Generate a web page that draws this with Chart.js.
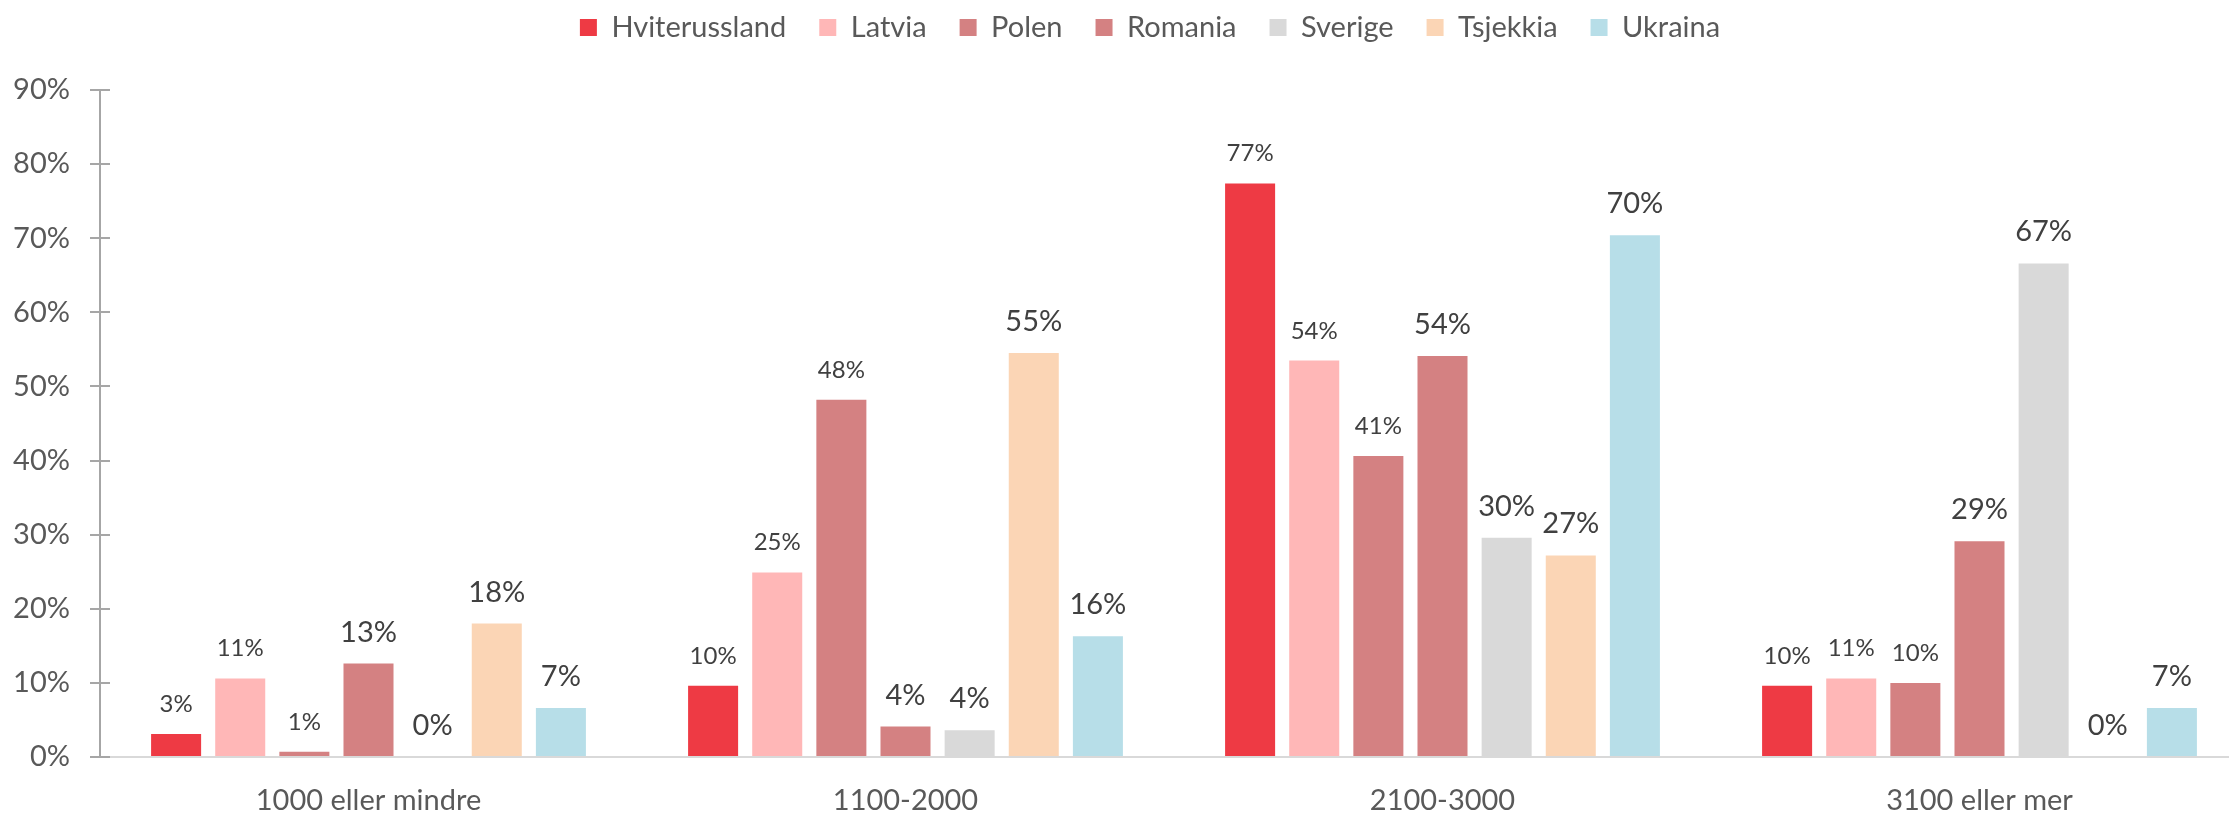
<!DOCTYPE html>
<html>
<head>
<meta charset="utf-8">
<script src="https://cdn.jsdelivr.net/npm/chart.js@4/dist/chart.umd.min.js"></script>
<style>
  html, body { margin: 0; padding: 0; background: #fff; overflow: hidden; }
  #wrap { position: absolute; left: 0; top: 0; width: 2250px; height: 814px; }
</style>
</head>
<body>
<div id="wrap"><canvas id="chart"></canvas></div>
<script>
// kategorier (inntekt) og land
var categories = ['1000 eller mindre', '1100-2000', '2100-3000', '3100 eller mer'];
var countries = ['Hviterussland', 'Latvia', 'Polen', 'Romania', 'Sverige', 'Tsjekkia', 'Ukraina'];

// andel i prosent, én liste per land (rekkefølge som categories)
var hviterussland = [3.1, 9.6, 77.4, 9.6];
var latvia        = [10.6, 24.9, 53.5, 10.6];
var polen         = [0.7, 48.2, 40.6, 10.0];
var romania       = [12.6, 4.1, 54.1, 29.1];
var sverige       = [0, 3.6, 29.6, 66.6];
var tsjekkia      = [18.0, 54.5, 27.2, 0];
var ukraina       = [6.6, 16.3, 70.4, 6.6];

var yTicks = [0, 10, 20, 30, 40, 50, 60, 70, 80, 90];

var seriesValues = [hviterussland, latvia, polen, romania, sverige, tsjekkia, ukraina];
var colors = ['#EE3A44', '#FFB7B7', '#D48182', '#D48182', '#D9D9D9', '#FBD5B5', '#B7DEE8'];
var labelSizes = [24, 24, 24, 29, 29, 29, 29];

var FONT = 'Lato, "Open Sans", sans-serif';

// verdietiketter over søylene
var barLabels = {
  id: 'barLabels',
  // forklaringen står litt til venstre for midten av plottet
  afterLayout: function(chart) {
    chart.legend.left -= 24;
    chart.legend.right -= 24;
  },
  afterDatasetsDraw: function(chart) {
    var ctx = chart.ctx;
    ctx.save();
    ctx.fillStyle = '#404040';
    ctx.textAlign = 'center';
    ctx.textBaseline = 'alphabetic';
    chart.data.datasets.forEach(function(ds, i) {
      var meta = chart.getDatasetMeta(i);
      ctx.font = labelSizes[i] + 'px ' + FONT;
      meta.data.forEach(function(bar, j) {
        ctx.fillText(Math.round(ds.data[j]) + '%', bar.x, bar.y - 22);
      });
    });
    ctx.restore();
  },
  // små kryss-streker inn mot plottet på y-aksen
  afterDraw: function(chart) {
    var y = chart.scales.y;
    var ctx = chart.ctx;
    ctx.save();
    ctx.strokeStyle = '#A6A6A6';
    ctx.lineWidth = 2;
    yTicks.forEach(function(t) {
      var py = Math.round(y.getPixelForValue(t));
      ctx.beginPath();
      ctx.moveTo(y.right, py);
      ctx.lineTo(y.right + 10, py);
      ctx.stroke();
    });
    ctx.restore();
  }
};

new Chart(document.getElementById('chart'), {
  type: 'bar',
  data: {
    labels: categories,
    datasets: countries.map(function(name, i) {
      return {
        label: name,
        data: seriesValues[i],
        backgroundColor: colors[i],
        borderWidth: 0,
        categoryPercentage: 0.836,
        barPercentage: 0.78
      };
    })
  },
  options: {
    responsive: true,
    maintainAspectRatio: false,
    animation: false,
    layout: { padding: { top: -20, right: 2, bottom: 0, left: 0 } },
    plugins: {
      legend: {
        position: 'top',
        fullSize: false,
        labels: {
          font: { family: FONT, size: 29 },
          color: '#595959',
          boxWidth: 17,
          boxHeight: 17,
          padding: 33
        }
      },
      // tom tittel som luft mellom forklaring og plott
      title: {
        display: true,
        text: '',
        position: 'top',
        weight: 500,
        font: { size: 1, lineHeight: 1 },
        padding: { top: 0, bottom: 37 }
      },
      tooltip: { enabled: false }
    },
    scales: {
      x: {
        grid: { display: false, drawTicks: false },
        border: { color: '#D9D9D9', width: 2 },
        ticks: { font: { family: FONT, size: 29 }, color: '#595959', padding: 26 },
        afterFit: function(scale) { scale.height = 57; }
      },
      y: {
        min: 0,
        max: 90,
        afterBuildTicks: function(scale) {
          scale.ticks = yTicks.map(function(v) { return { value: v }; });
        },
        grid: { drawOnChartArea: false, drawTicks: true, tickLength: 10, color: '#A6A6A6', lineWidth: 2 },
        border: { color: '#A6A6A6', width: 2 },
        ticks: {
          font: { family: FONT, size: 29 },
          color: '#595959',
          padding: 20,
          callback: function(v) { return v + '%'; }
        },
        afterFit: function(scale) { scale.width = 100; }
      }
    }
  },
  plugins: [barLabels]
});
</script>
</body>
</html>
